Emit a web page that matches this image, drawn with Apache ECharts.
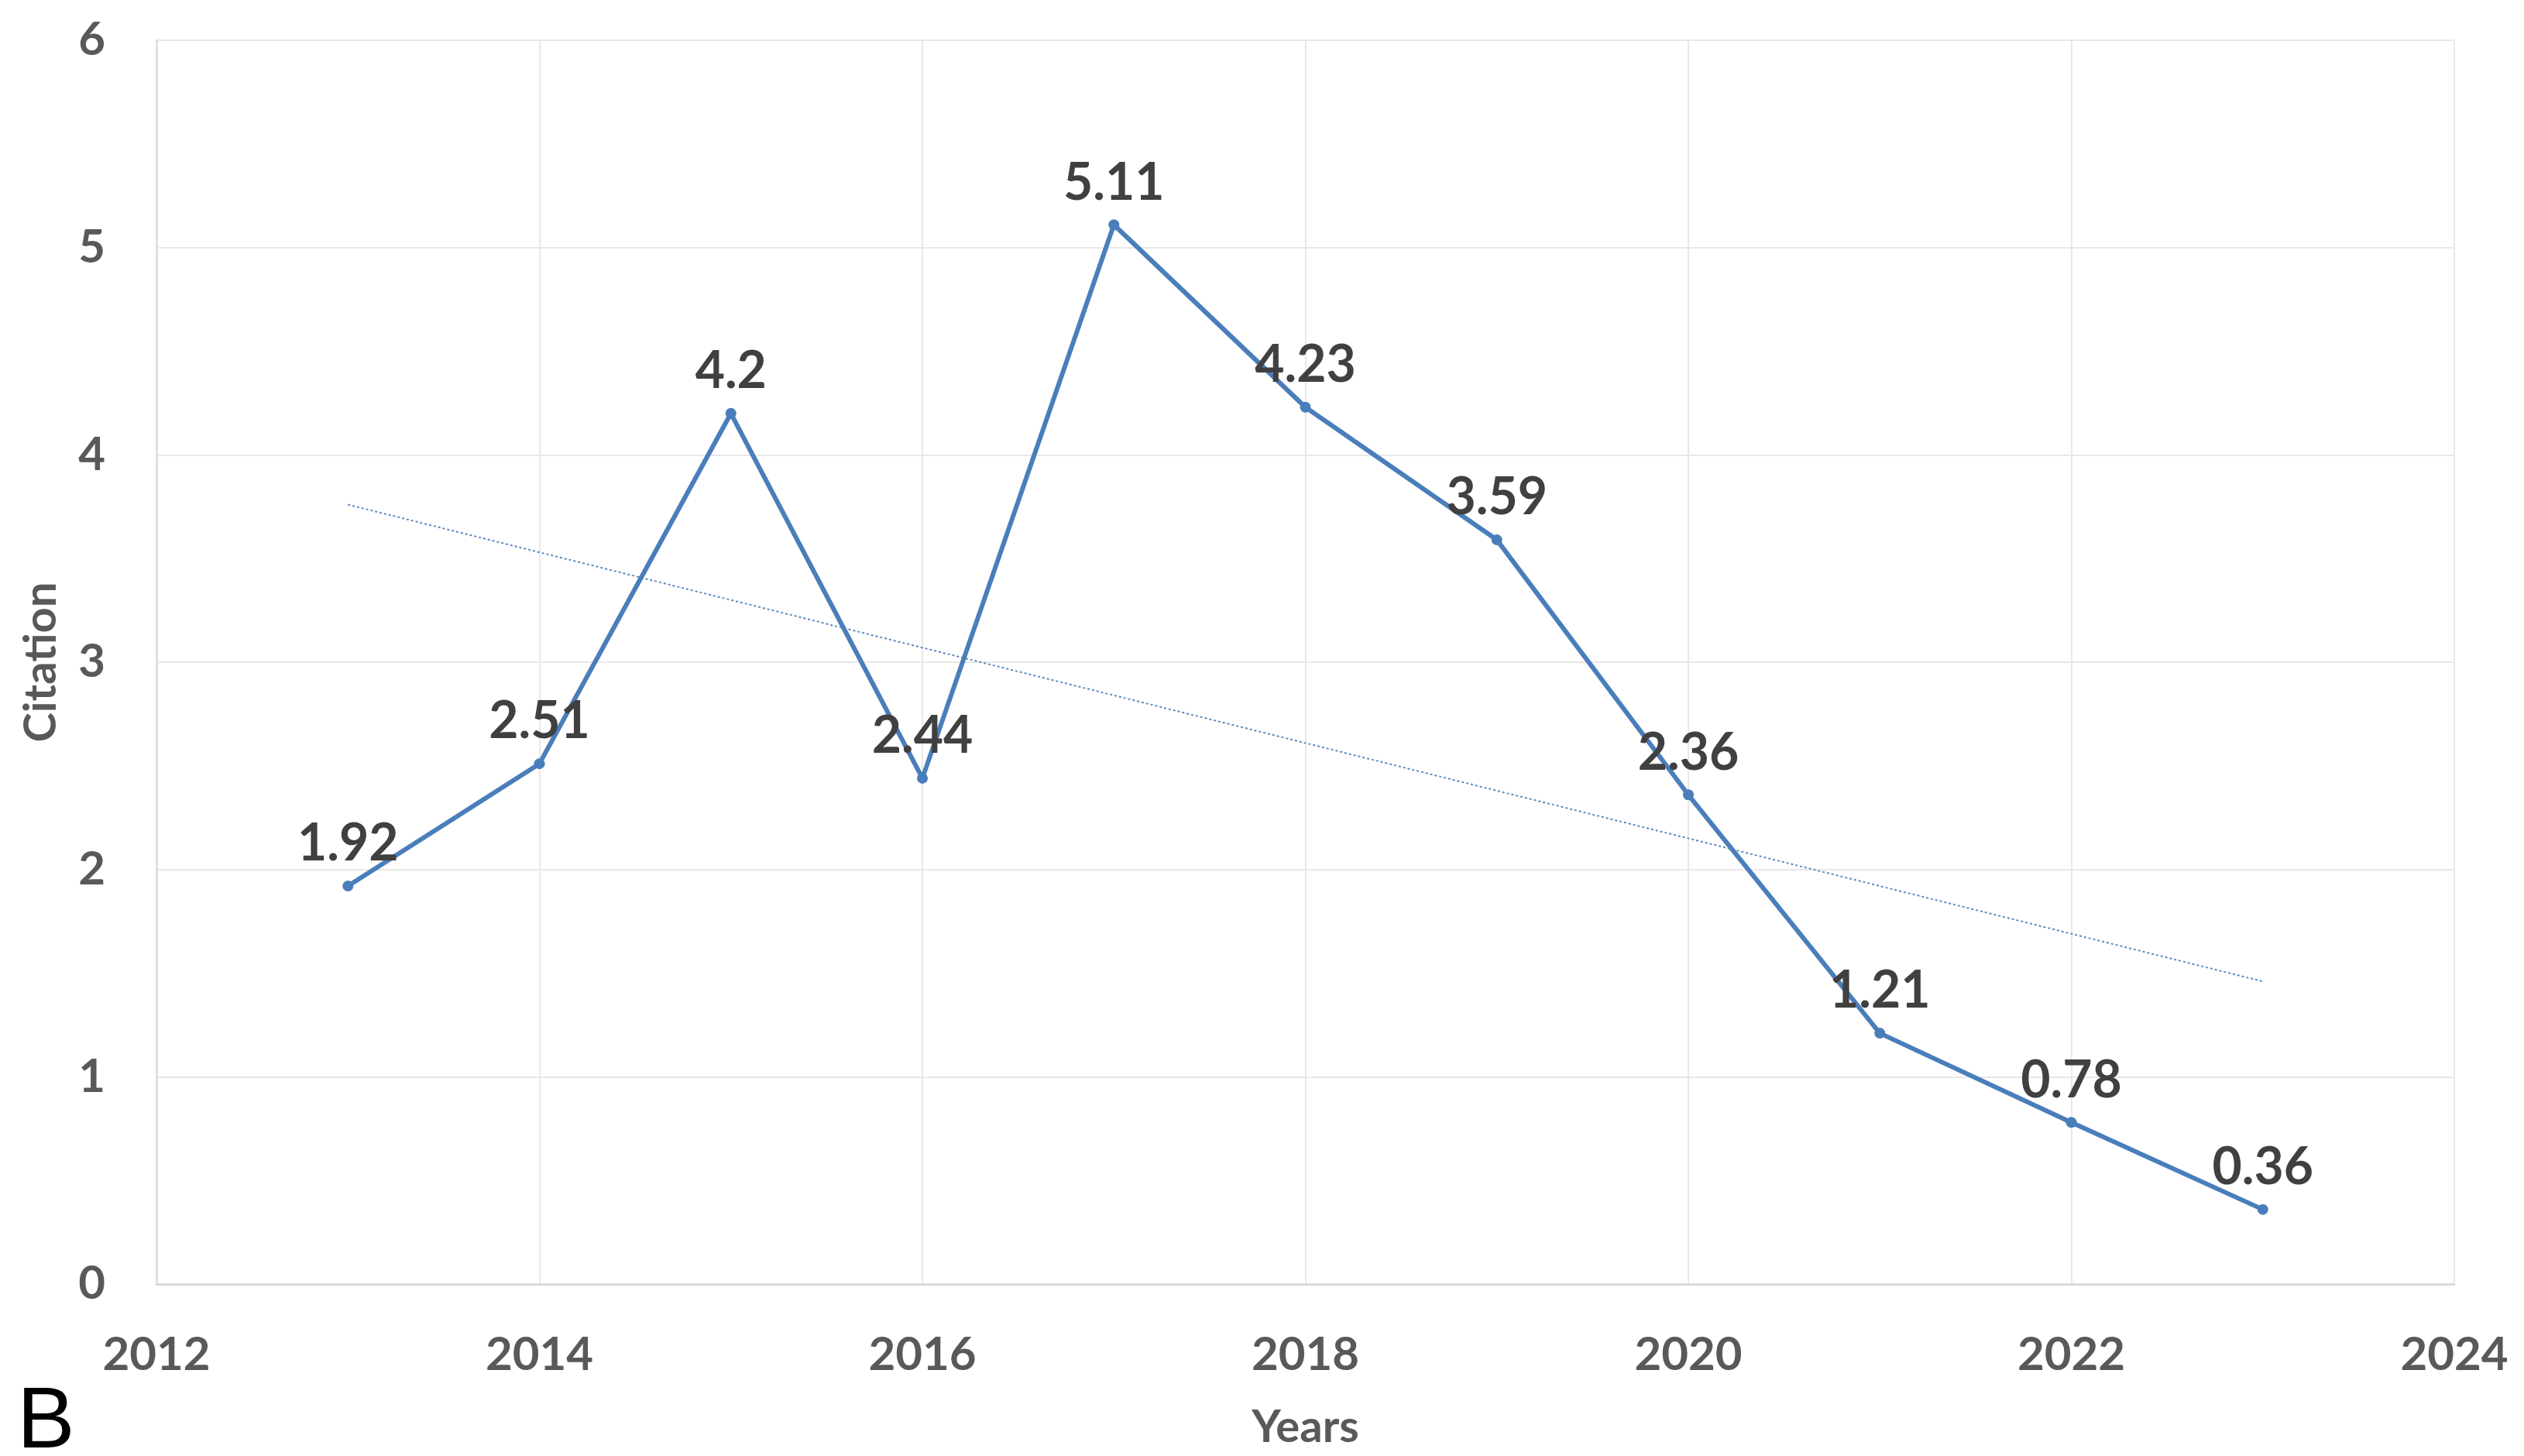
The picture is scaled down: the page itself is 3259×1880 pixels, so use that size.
<!DOCTYPE html>
<html><head><meta charset="utf-8">
<script src="https://cdn.jsdelivr.net/npm/echarts@6/dist/echarts.min.js"></script>
<style>html,body{margin:0;padding:0;background:#fff}#c{width:3259px;height:1880px}</style>
</head><body><div id="c"></div>
<script>
const years = [2013, 2014, 2015, 2016, 2017, 2018, 2019, 2020, 2021, 2022, 2023];
const citations = [1.92, 2.51, 4.2, 2.44, 5.11, 4.23, 3.59, 2.36, 1.21, 0.78, 0.36];
const trendYears = [2013, 2023];
const trendValues = [3.76, 1.46];
const xTicks = [2012, 2014, 2016, 2018, 2020, 2022, 2024];
const yTicks = [0, 1, 2, 3, 4, 5, 6];

const FONT = 'Lato';
const chart = echarts.init(document.getElementById('c'));
chart.setOption({
  backgroundColor: '#fff',
  animation: false,
  grid: { left: 202, right: 90, top: 52, bottom: 222, containLabel: false, outerBoundsMode: 'none' },
  xAxis: {
    type: 'value', min: xTicks[0], max: xTicks[xTicks.length - 1], interval: 2,
    name: 'Years', nameLocation: 'middle', nameGap: 156,
    nameTextStyle: { fontFamily: FONT, fontWeight: 'bold', fontSize: 58, color: '#595959' },
    axisLine: { lineStyle: { color: '#d9d9d9', width: 3 } },
    axisTick: { show: false },
    axisLabel: { fontFamily: FONT, fontWeight: 'bold', fontSize: 60, color: '#595959', margin: 62, formatter: v => String(v) },
    splitLine: { show: true, lineStyle: { color: '#e8e8e8', width: 2 } }
  },
  yAxis: {
    type: 'value', min: yTicks[0], max: yTicks[yTicks.length - 1], interval: 1,
    name: 'Citation', nameLocation: 'middle', nameGap: 120, nameRotate: 90,
    nameTextStyle: { fontFamily: FONT, fontWeight: 'bold', fontSize: 58, color: '#595959' },
    axisLine: { show: true, lineStyle: { color: '#e0e0e0', width: 3 } },
    axisTick: { show: false },
    axisLabel: { fontFamily: FONT, fontWeight: 'bold', fontSize: 60, color: '#595959', margin: 66 },
    splitLine: { show: true, lineStyle: { color: '#e8e8e8', width: 2 } }
  },
  series: [
    {
      type: 'line', data: trendYears.map((y, i) => [y, trendValues[i]]),
      symbol: 'none', silent: true, z: 1,
      lineStyle: { color: '#4a7ebb', width: 2, type: [3, 3], opacity: 0.9 }
    },
    {
      type: 'line', data: years.map((y, i) => [y, citations[i]]),
      symbol: 'circle', symbolSize: 14, z: 3,
      itemStyle: { color: '#4a7ebb' },
      lineStyle: { color: '#4a7ebb', width: 6 },
      label: { show: true, position: 'top', distance: 14, fontFamily: FONT, fontWeight: 'bold', fontSize: 66, color: '#404040',
        formatter: p => String(p.value[1]) }
    }
  ],
  graphic: [{ type: 'text', left: 22, top: 1782, style: { text: 'B', fontFamily: 'Liberation Sans', fontSize: 112, fill: '#000' } }]
});
</script></body></html>
